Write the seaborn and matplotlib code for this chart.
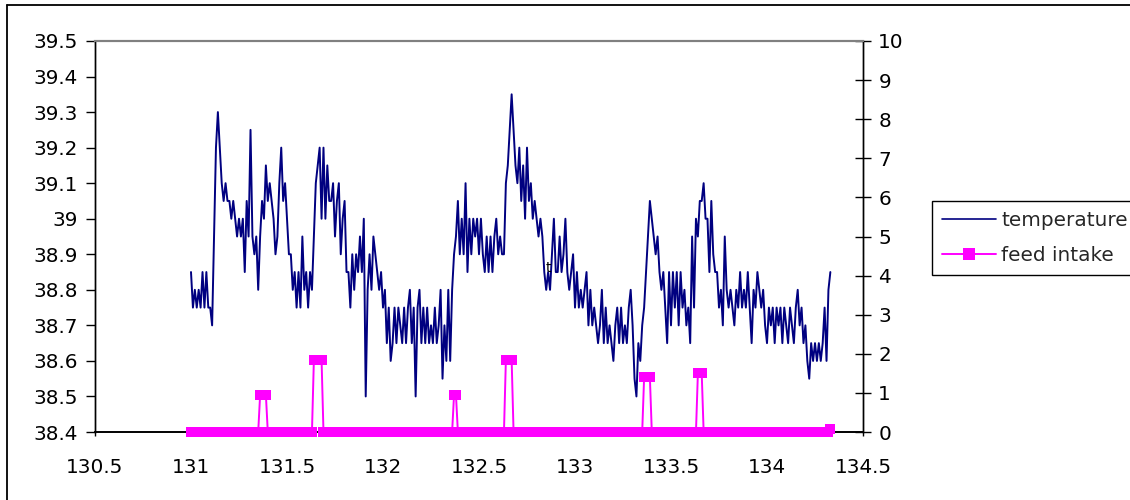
import numpy as np
import pandas as pd
import matplotlib
matplotlib.use("Agg")
import matplotlib.pyplot as plt
from matplotlib.lines import Line2D
import seaborn as sns

# ---------------- data ----------------
temperature = [
    38.85, 38.75, 38.8, 38.75, 38.8, 38.75, 38.85, 38.75, 38.85, 38.75,
    38.75, 38.7, 38.95, 39.2, 39.3, 39.2, 39.1, 39.05, 39.1, 39.05,
    39.05, 39.0, 39.05, 39.0, 38.95, 39.0, 38.95, 39.0, 38.85, 39.05,
    38.95, 39.25, 38.95, 38.9, 38.95, 38.8, 38.95, 39.05, 39.0, 39.15,
    39.05, 39.1, 39.05, 39.0, 38.9, 38.95, 39.1, 39.2, 39.05, 39.1,
    39.0, 38.9, 38.9, 38.8, 38.85, 38.75, 38.85, 38.75, 38.95, 38.8,
    38.85, 38.75, 38.85, 38.8, 38.95, 39.1, 39.15, 39.2, 39.0, 39.2,
    39.0, 39.15, 39.05, 39.05, 39.1, 38.95, 39.05, 39.1, 38.9, 39.0,
    39.05, 38.85, 38.85, 38.75, 38.9, 38.8, 38.9, 38.85, 38.95, 38.85,
    39.0, 38.5, 38.8, 38.9, 38.8, 38.95, 38.9, 38.85, 38.8, 38.85,
    38.75, 38.8, 38.65, 38.75, 38.6, 38.65, 38.75, 38.65, 38.75, 38.7,
    38.65, 38.75, 38.65, 38.75, 38.8, 38.65, 38.75, 38.5, 38.75, 38.8,
    38.65, 38.75, 38.65, 38.75, 38.65, 38.7, 38.65, 38.75, 38.65, 38.7,
    38.8, 38.55, 38.7, 38.6, 38.8, 38.6, 38.8, 38.9, 38.95, 39.05,
    38.9, 39.0, 38.9, 39.1, 38.85, 39.0, 38.9, 39.0, 38.95, 39.0,
    38.9, 39.0, 38.9, 38.85, 38.95, 38.85, 38.95, 38.85, 38.95, 39.0,
    38.9, 38.95, 38.9, 38.9, 39.1, 39.15, 39.25, 39.35, 39.25, 39.15,
    39.1, 39.2, 39.05, 39.15, 39.0, 39.2, 39.05, 39.1, 39.0, 39.05,
    39.0, 38.95, 39.0, 38.95, 38.85, 38.8, 38.85, 38.8, 38.9, 39.0,
    38.85, 38.85, 38.95, 38.85, 38.9, 39.0, 38.85, 38.8, 38.85, 38.9,
    38.75, 38.85, 38.75, 38.8, 38.75, 38.8, 38.85, 38.7, 38.8, 38.7,
    38.75, 38.7, 38.65, 38.7, 38.8, 38.65, 38.75, 38.65, 38.7, 38.65,
    38.6, 38.7, 38.75, 38.65, 38.75, 38.65, 38.7, 38.65, 38.75, 38.8,
    38.7, 38.55, 38.5, 38.65, 38.6, 38.7, 38.75, 38.85, 38.95, 39.05,
    39.0, 38.95, 38.9, 38.95, 38.85, 38.8, 38.85, 38.75, 38.65, 38.85,
    38.7, 38.85, 38.75, 38.85, 38.7, 38.85, 38.75, 38.8, 38.7, 38.75,
    38.65, 38.95, 38.75, 39.0, 38.95, 39.05, 39.05, 39.1, 39.0, 39.0,
    38.85, 39.05, 38.9, 38.85, 38.85, 38.75, 38.8, 38.7, 38.95, 38.8,
    38.75, 38.8, 38.75, 38.7, 38.8, 38.75, 38.85, 38.75, 38.8, 38.75,
    38.85, 38.75, 38.65, 38.8, 38.75, 38.85, 38.8, 38.75, 38.8, 38.7,
    38.65, 38.75, 38.7, 38.75, 38.65, 38.75, 38.7, 38.75, 38.65, 38.75,
    38.7, 38.65, 38.75, 38.7, 38.65, 38.75, 38.8, 38.7, 38.75, 38.65,
    38.7, 38.6, 38.55, 38.65, 38.6, 38.65, 38.6, 38.65, 38.6, 38.65,
    38.75, 38.6, 38.8, 38.85,
]
start_day = 131.00
sample_step = 0.01  # day

# feed intake events (day, amount); all other samples are 0
feed_event_days = [131.36, 131.37, 131.38, 131.39,
                   131.64, 131.65, 131.66, 131.67, 131.68,
                   132.37, 132.38,
                   132.64, 132.65, 132.66, 132.67,
                   133.36, 133.37, 133.38, 133.39,
                   133.64, 133.65, 133.66,
                   134.33]
feed_event_values = [0.95, 0.95, 0.95, 0.95,
                     1.85, 1.85, 1.85, 1.85, 1.85,
                     0.95, 0.95,
                     1.85, 1.85, 1.85, 1.85,
                     1.4, 1.4, 1.4, 1.4,
                     1.5, 1.5, 1.5,
                     0.08]

x_ticks = [130.5, 131, 131.5, 132, 132.5, 133, 133.5, 134, 134.5]
x_labels = ["130.5", "131", "131.5", "132", "132.5", "133", "133.5", "134", "134.5"]
left_ticks = [38.4, 38.5, 38.6, 38.7, 38.8, 38.9, 39.0, 39.1, 39.2, 39.3, 39.4, 39.5]
left_labels = ["38.4", "38.5", "38.6", "38.7", "38.8", "38.9", "39", "39.1", "39.2", "39.3", "39.4", "39.5"]
right_ticks = [0, 1, 2, 3, 4, 5, 6, 7, 8, 9, 10]

# ---------------- build table ----------------
n = len(temperature)
day = np.round(start_day + sample_step * np.arange(n), 2)
feed = np.zeros(n)
for d, v in zip(feed_event_days, feed_event_values):
    feed[int(round((d - start_day) / sample_step))] = v
df = pd.DataFrame({"day": day, "temperature": temperature, "feed intake": feed})

# ---------------- style ----------------
sns.set_style("white")
plt.rcParams["font.family"] = ["DejaVu Sans"]
FS = 14.4

W, H = 1130, 500
fig = plt.figure(figsize=(W / 100, H / 100), dpi=100)
ax = fig.add_axes([95 / W, 1 - 432 / H, (863 - 95) / W, (432 - 41) / H])
ax2 = ax.twinx()

NAVY = "#000080"
MAG = "#FF00FF"

sns.lineplot(data=df, x="day", y="temperature", ax=ax, color=NAVY,
             linewidth=1.4, sort=False, legend=False)
sns.lineplot(data=df, x="day", y="feed intake", ax=ax2, color=MAG,
             linewidth=1.4, marker="s", markersize=7.8, markeredgewidth=0,
             sort=False, legend=False)
for ln in ax2.get_lines():
    ln.set_clip_on(False)
    ln.set_zorder(3)

ax.set_xlim(130.5, 134.5)
ax.set_ylim(38.4, 39.5)
ax2.set_ylim(0, 10)
ax.set_xticks(x_ticks)
ax.set_xticklabels(x_labels)
ax.set_yticks(left_ticks)
ax.set_yticklabels(left_labels)
ax2.set_yticks(right_ticks)
ax2.set_yticklabels([str(t) for t in right_ticks])
ax.set_xlabel("")
ax.set_ylabel("")
ax2.set_ylabel("")

ax.tick_params(axis="y", direction="out", length=6.5, width=1, pad=6,
               labelsize=FS, colors="black", left=True)
ax.tick_params(axis="x", direction="out", length=3, width=1, pad=16,
               labelsize=FS, colors="black", bottom=True)
ax2.tick_params(axis="y", direction="inout", length=12, width=1, pad=5,
                labelsize=FS, colors="black", right=True)

for a in (ax, ax2):
    a.spines["left"].set_color("black")
    a.spines["right"].set_color("black")
    a.spines["bottom"].set_color("black")
    a.spines["top"].set_color("#808080")
    a.spines["top"].set_linewidth(1.5)
    a.spines["left"].set_linewidth(1.0)
    a.spines["right"].set_linewidth(1.0)
    a.spines["bottom"].set_linewidth(1.2)
    a.grid(False)

# stray glyph present in the reference
ax.text(132.859, 38.862, "t", fontsize=10, color="black", ha="center", va="center")

# legend
handles = [Line2D([0], [0], color=NAVY, lw=1.2),
           Line2D([0], [0], color=MAG, lw=1.4, marker="s", markersize=8, markeredgewidth=0)]
leg = fig.legend(handles, ["temperature", "feed intake"], loc="upper left",
                 bbox_to_anchor=(932 / W, 1 - 201 / H), bbox_transform=fig.transFigure,
                 frameon=True, fancybox=False, framealpha=1, edgecolor="black",
                 fontsize=FS, handlelength=2.7, handletextpad=0.25,
                 borderpad=0.5, labelspacing=0.8, borderaxespad=0)
leg.get_frame().set_linewidth(1.0)

# chart-area border (left and top edges visible in the reference)
fig.add_artist(Line2D([7 / W, 7 / W], [0, 1 - 5 / H], transform=fig.transFigure,
                      color="black", lw=1.3))
fig.add_artist(Line2D([7 / W, 1], [1 - 5 / H, 1 - 5 / H], transform=fig.transFigure,
                      color="black", lw=1.3))

fig.savefig("out.png", dpi=100)
